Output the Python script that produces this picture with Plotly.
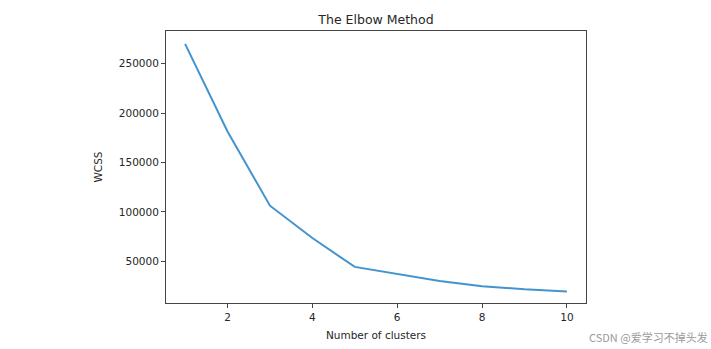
import plotly.graph_objects as go

clusters = [1, 2, 3, 4, 5, 6, 7, 8, 9, 10]
wcss = [269981, 181363, 106348, 73679, 44448, 37233, 30259, 25011, 21850, 19672]
x_ticks = [2, 4, 6, 8, 10]
y_ticks = [50000, 100000, 150000, 200000, 250000]

fig = go.Figure()
fig.add_trace(go.Scatter(x=clusters, y=wcss, mode="lines",
                         line=dict(color="#4393cf", width=2), showlegend=False))

axis_common = dict(showgrid=False, zeroline=False, showline=True, mirror=True,
                   linecolor="#444444", linewidth=1, ticks="outside", ticklen=4,
                   tickcolor="#444444", automargin=False,
                   tickfont=dict(family="DejaVu Sans", size=10.5, color="#262626"))

fig.update_xaxes(range=[0.55, 10.45], tickvals=x_ticks, ticktext=[str(v) for v in x_ticks],
                 title=dict(text="Number of clusters", font=dict(family="DejaVu Sans", size=10.5, color="#262626"), standoff=10),
                 **axis_common)
fig.update_yaxes(range=[7966, 282996], tickvals=y_ticks, ticktext=[str(v) for v in y_ticks],
                 title=dict(text="WCSS", font=dict(family="DejaVu Sans", size=10.5, color="#262626"), standoff=14),
                 **axis_common)

fig.update_layout(
    width=711, height=349,
    margin=dict(l=166, r=125, t=31, b=46, autoexpand=False),
    paper_bgcolor="white", plot_bgcolor="white",
    title=dict(text="The Elbow Method", x=0.5, xref="paper", xanchor="center",
               y=1, yref="paper", yanchor="bottom", pad=dict(b=7),
               font=dict(family="DejaVu Sans", size=12.5, color="#262626")),
)

fig.add_annotation(text="CSDN @爱学习不掉头发", xref="paper", yref="paper",
                   x=1.0, y=0, xshift=124, yshift=-34, xanchor="right", yanchor="middle",
                   showarrow=False, font=dict(family="Noto Sans CJK SC", size=11, color="#9a9a9a"))

fig.write_html("out.html")
